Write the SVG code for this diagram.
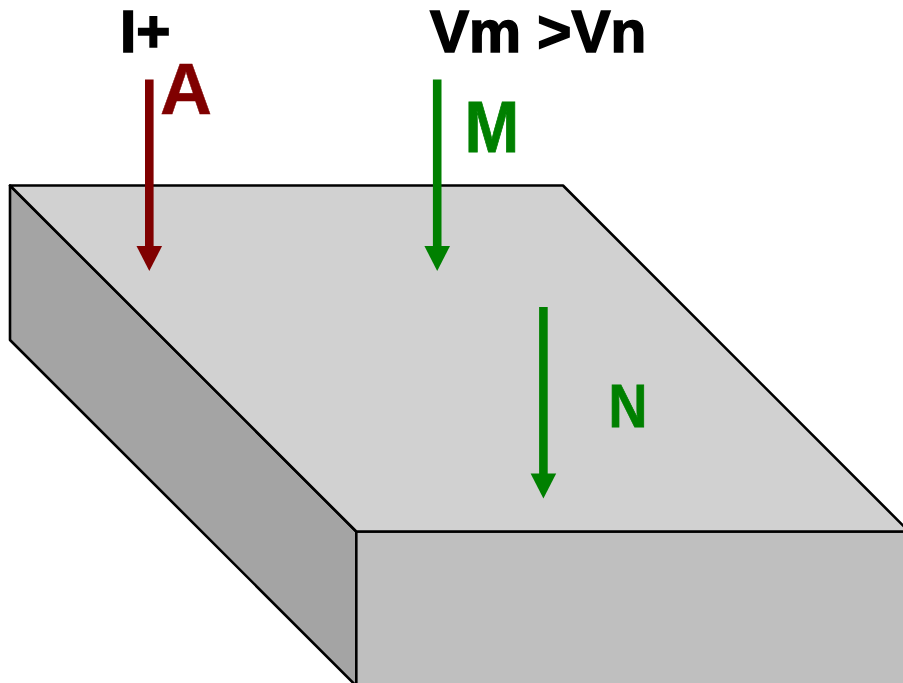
<svg xmlns="http://www.w3.org/2000/svg" width="903" height="683" viewBox="0 0 903 683">
<style>
.e{stroke:#000;stroke-width:2.6;stroke-linejoin:round}
text{font-family:"Liberation Sans",Arial,sans-serif;font-weight:bold}
.a{stroke-width:8.6;fill:none}
.k{fill:#000;stroke:#000;stroke-width:1.6;font-size:58.500px}
.g{fill:#008000;stroke:#008000;stroke-width:.8}
</style>
<rect width="903" height="683" fill="#fff"/>
<g id="block">
<path class="e" fill="#a4a4a4" d="M10 185.500L356.300 531.500V686L10 340Z"/>
<path class="e" fill="#bfbfbf" d="M356.300 531.500H909V690H356.300Z"/>
<path class="e" fill="#d1d1d1" d="M10 185.500H563L909 531.500H356.300Z"/>
</g>
<g id="connectors">
<path class="a" stroke="#800000" d="M149.300 79.500V248"/>
<path fill="#800000" d="M136.500 246H162.100L149.300 271Z"/>
<path class="a" stroke="#008000" d="M437.200 79.500V248"/>
<path fill="#008000" d="M424.400 246H450L437.200 271Z"/>
<path class="a" stroke="#008000" d="M543.400 307V476"/>
<path fill="#008000" d="M530.600 473.500H556.200L543.400 498.500Z"/>
</g>
<g id="labels">
<text x="120" y="51.500" class="k">I+</text>
<text x="430" y="51.500" class="k">Vm &gt;Vn</text>
<text x="160" y="114" font-size="72" fill="#800000" stroke="#800000" stroke-width=".5">A</text>
<text transform="translate(464.500 151.500) scale(.9 1)" font-size="73" class="g">M</text>
<text transform="translate(608.500 427) scale(.89 1)" font-size="60.500" class="g">N</text>
</g>
</svg>
